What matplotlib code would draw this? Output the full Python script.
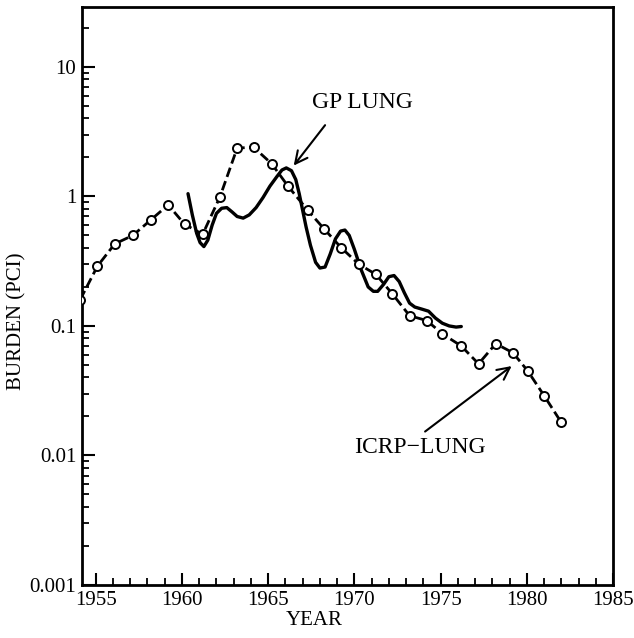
import matplotlib.pyplot as plt
from matplotlib.ticker import FixedLocator, LogLocator, NullFormatter

plt.rcParams['font.family'] = ['Liberation Serif', 'DejaVu Serif']

# ICRP lung model, yearly points
icrp_year = [1954.1, 1955.1, 1956.1, 1957.15, 1958.2, 1959.2, 1960.15, 1961.2,
             1962.2, 1963.2, 1964.15, 1965.2, 1966.15, 1967.3, 1968.25,
             1969.25, 1970.25, 1971.25, 1972.2, 1973.2, 1974.2, 1975.1,
             1976.2, 1977.2, 1978.2, 1979.2, 1980.05, 1981.0, 1982.0]
icrp_burden = [0.16, 0.29, 0.43, 0.50, 0.66, 0.86, 0.61, 0.51,
               0.99, 2.36, 2.40, 1.79, 1.20, 0.78, 0.56,
               0.40, 0.30, 0.25, 0.177, 0.12, 0.11, 0.087,
               0.070, 0.051, 0.073, 0.062, 0.045, 0.029, 0.018]

# GP lung model curve
gp_year = [1960.35, 1960.6, 1960.85, 1961.05, 1961.27, 1961.5, 1961.75, 1962.0,
           1962.3, 1962.6, 1962.9, 1963.2, 1963.55, 1963.9, 1964.3, 1964.7,
           1965.1, 1965.5, 1965.8, 1966.05, 1966.35, 1966.6, 1966.8, 1967.0,
           1967.2, 1967.45, 1967.75, 1968.0, 1968.3, 1968.6, 1968.9, 1969.2,
           1969.45, 1969.7, 1970.0, 1970.4, 1970.8, 1971.1, 1971.35, 1971.7,
           1972.0, 1972.3, 1972.6, 1972.9, 1973.2, 1973.5, 1973.9, 1974.3,
           1974.7, 1975.1, 1975.5, 1975.9, 1976.2]
gp_burden = [1.05, 0.72, 0.52, 0.44, 0.41, 0.46, 0.60, 0.74,
             0.81, 0.82, 0.76, 0.70, 0.68, 0.72, 0.82, 0.98,
             1.20, 1.42, 1.60, 1.66, 1.58, 1.35, 1.05, 0.78,
             0.58, 0.42, 0.31, 0.28, 0.285, 0.36, 0.47, 0.54,
             0.55, 0.50, 0.39, 0.27, 0.20, 0.185, 0.185, 0.21,
             0.24, 0.245, 0.22, 0.18, 0.15, 0.14, 0.135, 0.13,
             0.115, 0.105, 0.10, 0.098, 0.099]

decade_ticks = [0.001, 0.01, 0.1, 1, 10]
decade_labels = ['0.001', '0.01', '0.1', '1', '10']
year_ticks = [1955, 1960, 1965, 1970, 1975, 1980, 1985]

fig = plt.figure(figsize=(6.34, 6.38), dpi=100)
ax = fig.add_axes([0.1293, 0.0831, 0.8376, 0.9059])

ax.plot(icrp_year, icrp_burden, color='black', lw=2.0,
        linestyle=(0, (3.5, 1.6)), marker='o', markersize=6.5,
        markerfacecolor='white', markeredgecolor='black', markeredgewidth=1.4,
        zorder=3)
ax.plot(gp_year, gp_burden, color='black', lw=2.4, solid_capstyle='round', zorder=2)

ax.set_yscale('log')
ax.set_xlim(1954.2, 1985)
ax.set_ylim(0.001, 29)

ax.set_yticks(decade_ticks)
ax.set_yticklabels(decade_labels)
ax.yaxis.set_minor_locator(LogLocator(base=10, subs=range(2, 10)))
ax.yaxis.set_minor_formatter(NullFormatter())
ax.set_xticks(year_ticks)
ax.xaxis.set_minor_locator(FixedLocator(range(1955, 1986)))

ax.tick_params(which='major', direction='in', length=9, width=1.5,
               labelsize=15, pad=4)
ax.tick_params(which='minor', direction='in', length=5, width=1.3)

for sp in ax.spines.values():
    sp.set_linewidth(2)

ax.set_xlabel('YEAR', fontsize=15)
ax.xaxis.set_label_coords(0.437, -0.045)
ax.set_ylabel('BURDEN (PCI)', fontsize=15)
ax.yaxis.set_label_coords(-0.104, 0.457)

# labels and their pointer arrows
arrow = dict(arrowstyle='->', color='black', lw=1.5, shrinkA=0, shrinkB=0,
             mutation_scale=22)
ax.text(1970.45, 5.3, 'GP LUNG', fontsize=17, ha='center', va='center')
ax.annotate('', xy=(1966.48, 1.73), xytext=(1968.3, 3.55), arrowprops=arrow)
ax.text(1973.8, 0.0115, 'ICRP\u2212LUNG', fontsize=17, ha='center', va='center')
ax.annotate('', xy=(1979.12, 0.049), xytext=(1974.1, 0.0153), arrowprops=arrow)

fig.savefig('out.png', dpi=100)
